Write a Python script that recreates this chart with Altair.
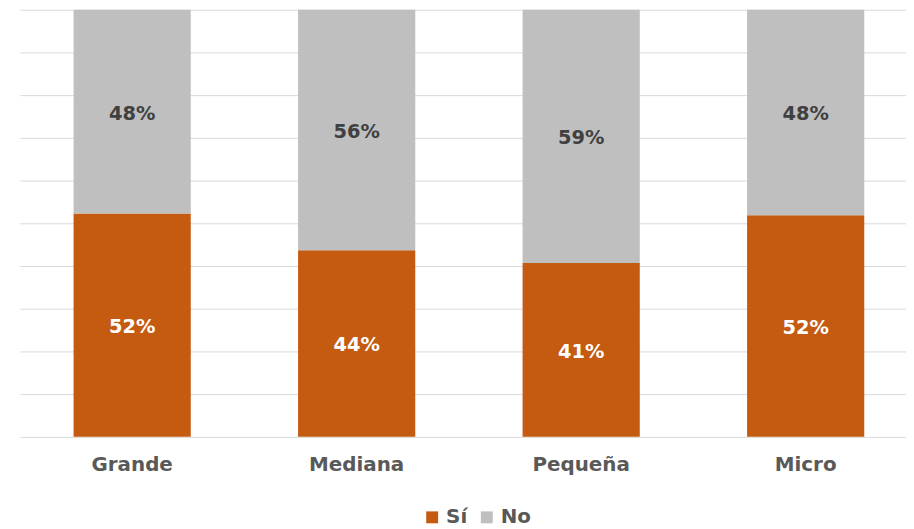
import altair as alt
import pandas as pd

categories = ["Grande", "Mediana", "Pequeña", "Micro"]
si_values = [0.523, 0.437, 0.407, 0.519]
no_values = [0.477, 0.563, 0.593, 0.481]
series = ["Sí", "No"]
colors = ["#C55A11", "#BFBFBF"]

rows = []
for cat, s, n in zip(categories, si_values, no_values):
    rows.append({"cat": cat, "serie": "Sí", "val": s, "start": 0.0, "end": s, "mid": s / 2})
    rows.append({"cat": cat, "serie": "No", "val": n, "start": s, "end": s + n, "mid": s + n / 2})
df = pd.DataFrame(rows)

FONT = "DejaVu Sans"

x_enc = alt.X(
    "cat:N",
    sort=categories,
    scale=alt.Scale(range=[0, 904], paddingInner=0.478, paddingOuter=0.239),
    axis=alt.Axis(
        title=None,
        labelAngle=0,
        labelFont=FONT,
        labelFontWeight="bold",
        labelFontSize=20,
        labelColor="#595959",
        labelPadding=18,
        ticks=False,
        domain=False,
        grid=False,
    ),
)

bars = alt.Chart(df).mark_bar().encode(
    x=x_enc,
    y=alt.Y(
        "start:Q",
        scale=alt.Scale(domain=[0, 1], nice=False),
        axis=alt.Axis(
            title=None,
            labels=False,
            ticks=False,
            domain=False,
            values=[0, 0.1, 0.2, 0.3, 0.4, 0.5, 0.6, 0.7, 0.8, 0.9, 1.0],
            gridColor="#D9D9D9",
            gridWidth=1,
        ),
    ),
    y2="end:Q",
    color=alt.Color(
        "serie:N",
        scale=alt.Scale(domain=series, range=colors),
        sort=series,
        legend=alt.Legend(
            title=None,
            orient="none",
            direction="horizontal",
            legendX=405,
            legendY=501,
            symbolType="square",
            symbolSize=144,
            symbolStrokeWidth=0,
            labelFont=FONT,
            labelFontWeight="bold",
            labelFontSize=20,
            labelColor="#595959",
            labelOffset=4,
            columnPadding=9,
            padding=0,
        ),
    ),
)

text_si = alt.Chart(df).transform_filter(alt.datum.serie == "Sí").mark_text(
    font=FONT, fontWeight="bold", fontSize=19.5, baseline="middle", align="center", dy=2
).encode(
    x=alt.X("cat:N", sort=categories),
    y=alt.Y("mid:Q"),
    text=alt.Text("val:Q", format=".0%"),
    color=alt.value("#FFFFFF"),
)

text_no = alt.Chart(df).transform_filter(alt.datum.serie == "No").mark_text(
    font=FONT, fontWeight="bold", fontSize=19.5, baseline="middle", align="center", dy=2
).encode(
    x=alt.X("cat:N", sort=categories),
    y=alt.Y("mid:Q"),
    text=alt.Text("val:Q", format=".0%"),
    color=alt.value("#404040"),
)

chart = alt.layer(bars, text_si, text_no).properties(
    width=892,
    height=430,
    autosize=alt.AutoSizeParams(type="none"),
    padding={"left": 12, "top": 0, "right": 0, "bottom": 90},
).configure_view(strokeWidth=0)

chart.save("out.html", embed_options={"renderer": "svg", "actions": False})
